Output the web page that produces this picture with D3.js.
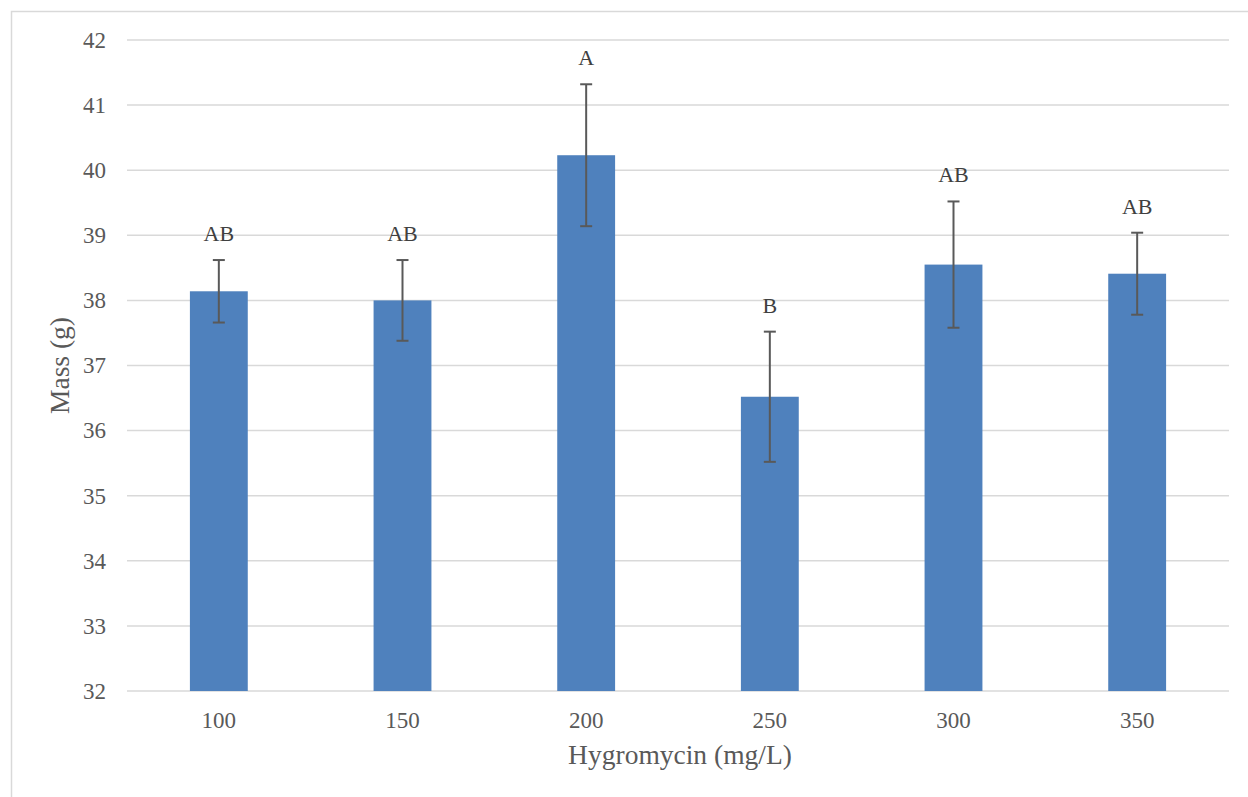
<!DOCTYPE html>
<html><head><meta charset="utf-8">
<script src="https://cdn.jsdelivr.net/npm/d3@7/dist/d3.min.js"></script>
<style>body{margin:0;background:#fff;}svg{display:block;} svg text{font-family:"Liberation Serif" !important;}</style>
</head><body>
<script>
const categories = ["100","150","200","250","300","350"];
const means = [38.14, 38.0, 40.23, 36.52, 38.55, 38.41];
const errors = [0.48, 0.62, 1.09, 1.0, 0.97, 0.63];
const letters = ["AB","AB","A","B","AB","AB"];
const yTicks = [32,33,34,35,36,37,38,39,40,41,42];

const FONT = "Liberation Serif";
const W = 1248, H = 797;
const m = {left:127, right:19, top:40, bottom:106};
const svg = d3.select("body").append("svg").attr("width",W).attr("height",H)
  .attr("font-family",FONT);

// chart border (only left & top visible)
svg.append("rect").attr("x",11.5).attr("y",11.5).attr("width",W+20).attr("height",H+20)
  .attr("fill","none").attr("stroke","#d9d9d9").attr("stroke-width",1.5);

const x = d3.scaleBand().domain(categories).range([m.left, W-m.right]).paddingInner(0.685).paddingOuter(0.3425);
const y = d3.scaleLinear().domain([32,42]).range([H-m.bottom, m.top]);

// gridlines
svg.append("g").selectAll("line").data(yTicks).join("line")
  .attr("x1",m.left).attr("x2",W-m.right)
  .attr("y1",d=>y(d)).attr("y2",d=>y(d))
  .attr("stroke","#d9d9d9").attr("stroke-width",1.5);

// y axis labels
const gy = svg.append("g").attr("transform",`translate(${m.left},0)`)
  .call(d3.axisLeft(y).tickValues(yTicks).tickSize(0).tickPadding(21));
gy.select(".domain").remove();
gy.attr("font-family",FONT).attr("font-size",23);
gy.selectAll("text").attr("fill","#595959").style("font-family",FONT).style("font-size","23px");

// x axis labels
const gx = svg.append("g").attr("transform",`translate(0,${H-m.bottom})`)
  .call(d3.axisBottom(x).tickSize(0).tickPadding(21));
gx.select(".domain").remove();
gx.attr("font-family",FONT).attr("font-size",23);
gx.selectAll("text").attr("fill","#595959").style("font-family",FONT).style("font-size","23px");

const data = categories.map((c,i)=>({c, v:means[i], e:errors[i], l:letters[i]}));

// bars
svg.append("g").selectAll("rect").data(data).join("rect")
  .attr("x",d=>x(d.c)).attr("width",x.bandwidth())
  .attr("y",d=>y(d.v)).attr("height",d=>y(32)-y(d.v))
  .attr("fill","#4f81bd");

// error bars
const eg = svg.append("g").attr("stroke","#595959").attr("stroke-width",2);
data.forEach(d=>{
  const cx = x(d.c)+x.bandwidth()/2;
  eg.append("line").attr("x1",cx).attr("x2",cx).attr("y1",y(d.v+d.e)).attr("y2",y(d.v-d.e));
  eg.append("line").attr("x1",cx-6).attr("x2",cx+6).attr("y1",y(d.v+d.e)).attr("y2",y(d.v+d.e));
  eg.append("line").attr("x1",cx-6).attr("x2",cx+6).attr("y1",y(d.v-d.e)).attr("y2",y(d.v-d.e));
});

// letters
svg.append("g").selectAll("text").data(data).join("text")
  .attr("x",d=>x(d.c)+x.bandwidth()/2).attr("y",d=>y(d.v+d.e)-19)
  .attr("text-anchor","middle").attr("font-size",22).attr("fill","#404040")
  .text(d=>d.l);

// axis titles
svg.append("text").attr("x",(m.left+W-m.right)/2+2).attr("y",764)
  .attr("text-anchor","middle").attr("font-size",27.5).attr("fill","#595959").text("Hygromycin (mg/L)");
svg.append("text").attr("transform",`translate(69,${(m.top+H-m.bottom)/2}) rotate(-90)`)
  .attr("text-anchor","middle").attr("font-size",27.5).attr("fill","#595959").text("Mass (g)");
</script>
</body></html>
